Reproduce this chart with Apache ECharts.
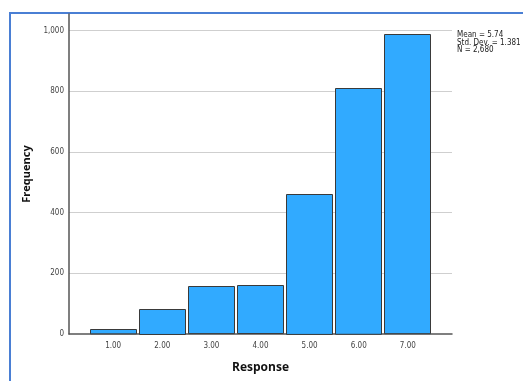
<!DOCTYPE html>
<html>
<head>
<meta charset="utf-8">
<script src="https://cdn.jsdelivr.net/npm/echarts@6/dist/echarts.min.js"></script>
<style>
html,body{margin:0;padding:0;background:#fff;overflow:hidden;width:523px;height:381px;}
#frame{position:absolute;left:9px;top:12px;width:600px;height:500px;border-left:2px solid #4a7fd4;border-top:2px solid #4a7fd4;}
#wrap{position:absolute;left:0;top:0;width:523px;height:381px;overflow:hidden;}
#chart{position:absolute;left:0;top:0;width:523px;height:381px;}
</style>
</head>
<body>
<div id="wrap"><div id="frame"></div></div>
<div id="chart"></div>
<script>
const categories = [1, 2, 3, 4, 5, 6, 7];
const frequencies = [16, 84, 157, 160, 463, 812, 988];
const xTickLabels = ['1.00', '2.00', '3.00', '4.00', '5.00', '6.00', '7.00'];
const statsLines = ['Mean = 5.74', 'Std. Dev. = 1.381', 'N = 2,680'];

const chart = echarts.init(document.getElementById('chart'), null, {renderer: 'canvas'});
const data = categories.map((c, i) => [c, frequencies[i]]);

chart.setOption({
  animation: false,
  backgroundColor: 'transparent',
  grid: {left: 69, right: 71, top: 14, bottom: 47},
  xAxis: {
    type: 'value',
    min: 0.1, max: 7.9,
    name: 'Response',
    nameLocation: 'middle',
    nameGap: 28,
    nameTextStyle: {fontFamily: 'Open Sans', fontWeight: 'bold', fontSize: 12, color: '#111'},
    axisLine: {show: true, lineStyle: {color: '#555', width: 1.5}},
    axisTick: {show: false},
    splitLine: {show: false},
    axisLabel: {
      customValues: categories,
      fontSize: 8, color: '#444', margin: 8, fontFamily: 'DejaVu Sans Condensed, DejaVu Sans',
      formatter: v => {
        const i = categories.indexOf(Math.round(v));
        return i >= 0 ? xTickLabels[i] : '';
      }
    }
  },
  yAxis: {
    type: 'value',
    min: 0, max: 1055, interval: 200,
    name: 'Frequency',
    nameLocation: 'middle',
    nameGap: 35,
    nameRotate: 90,
    nameTextStyle: {fontFamily: 'Open Sans', fontWeight: 'bold', fontSize: 11, color: '#111'},
    axisLine: {show: true, lineStyle: {color: '#555', width: 1.5}},
    axisTick: {show: false},
    splitLine: {show: true, showMaxLine: false, showMinLine: false, lineStyle: {color: '#cfcfcf', width: 1}},
    axisLabel: {
      showMaxLabel: false,
      fontSize: 8, color: '#444', margin: 5, fontFamily: 'DejaVu Sans Condensed, DejaVu Sans',
      formatter: v => v.toLocaleString('en-US')
    }
  },
  series: [{
    type: 'custom',
    data: data,
    z: 3,
    renderItem: function (params, api) {
      const x = api.value(0), y = api.value(1);
      const p0 = api.coord([x - 0.5, y]);
      const p1 = api.coord([x + 0.5, 0]);
      return {
        type: 'rect',
        shape: {x: Math.round(p0[0]) + 1.5, y: Math.round(p0[1]) + 0.5, width: Math.round(p1[0] - p0[0]) - 3, height: p1[1] - p0[1] - 0.5},
        style: {fill: '#31aaff', stroke: '#3a3a3a', lineWidth: 1}
      };
    }
  }],
  graphic: [{
    type: 'text',
    left: 457, top: 31,
    style: {
      text: statsLines.join('\n'),
      fontSize: 8, lineHeight: 7.5,
      fontFamily: 'Liberation Sans Narrow, DejaVu Sans Condensed, sans-serif',
      fill: '#222'
    }
  }]
});
</script>
</body>
</html>
